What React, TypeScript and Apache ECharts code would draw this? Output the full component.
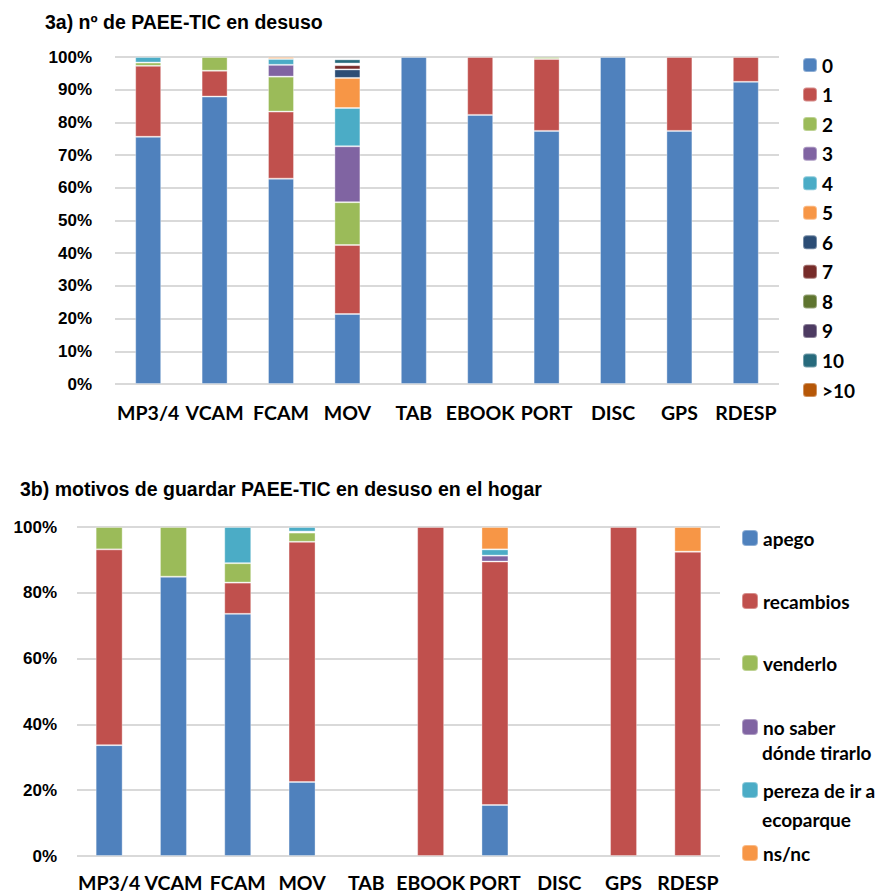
import React, { useEffect, useRef } from "react";
import * as echarts from "echarts";

const categories = ["MP3/4", "VCAM", "FCAM", "MOV", "TAB", "EBOOK", "PORT", "DISC", "GPS", "RDESP"];

// Chart 3a: percentage of devices by number of unused PAEE-TIC
const countNames = ["0", "1", "2", "3", "4", "5", "6", "7", "8", "9", "10", ">10"];
const c0 = [75.6, 87.9, 62.8, 21.4, 100, 82.3, 77.4, 100, 77.4, 92.4];
const c1 = [21.7, 7.9, 20.5, 21.1, 0, 17.7, 22.0, 0, 22.6, 7.6];
const c2 = [1.0, 4.2, 10.7, 13.1, 0, 0, 0.6, 0, 0, 0];
const c3 = [0, 0, 3.6, 17.1, 0, 0, 0, 0, 0, 0];
const c4 = [1.7, 0, 1.8, 11.7, 0, 0, 0, 0, 0, 0];
const c5 = [0, 0, 0.6, 9.2, 0, 0, 0, 0, 0, 0];
const c6 = [0, 0, 0, 2.6, 0, 0, 0, 0, 0, 0];
const c7 = [0, 0, 0, 1.3, 0, 0, 0, 0, 0, 0];
const c8 = [0, 0, 0, 0.3, 0, 0, 0, 0, 0, 0];
const c9 = [0, 0, 0, 0.2, 0, 0, 0, 0, 0, 0];
const c10 = [0, 0, 0, 1.3, 0, 0, 0, 0, 0, 0];
const c11 = [0, 0, 0, 0.2, 0, 0, 0, 0, 0, 0];
const countValues = [c0, c1, c2, c3, c4, c5, c6, c7, c8, c9, c10, c11];

// Chart 3b: reasons to keep unused PAEE-TIC at home
const reasonNames = ["apego", "recambios", "venderlo", "no saber dónde tirarlo", "pereza de ir a ecoparque", "ns/nc"];
const rApego = [33.7, 84.9, 73.6, 22.5, 0, 0, 15.5, 0, 0, 0];
const rRecambios = [59.5, 0, 9.5, 73.0, 0, 100, 74.0, 0, 100, 92.5];
const rVenderlo = [6.8, 15.1, 5.9, 2.8, 0, 0, 0, 0, 0, 0];
const rNoSaber = [0, 0, 0, 0.3, 0, 0, 1.8, 0, 0, 0];
const rPereza = [0, 0, 11.0, 1.4, 0, 0, 1.9, 0, 0, 0];
const rNsnc = [0, 0, 0, 0, 0, 0, 6.8, 0, 0, 7.5];
const reasonValues = [rApego, rRecambios, rVenderlo, rNoSaber, rPereza, rNsnc];

const topTicks = 10;
const bottomTicks = 20;

const palette = [
  "#4F81BD", "#C0504D", "#9BBB59", "#8064A2", "#4BACC6", "#F79646",
  "#2C4D75", "#772C2A", "#5F7530", "#4D3B62", "#276A7C", "#B65708",
];

const labelFont = "Lato, 'Open Sans', sans-serif";
const arialFont = "'Liberation Sans', Arial, sans-serif";

export default function App() {
  const ref = useRef<HTMLDivElement>(null);

  useEffect(() => {
    if (!ref.current) return;
    const chart = echarts.init(ref.current, undefined, { renderer: "svg" });

    const toData = (arr: number[]) => arr.map((v) => (v === 0 ? "-" : v));

    const topSeries = countNames.map((name, i) => ({
      name,
      type: "bar",
      stack: "a",
      xAxisIndex: 0,
      yAxisIndex: 0,
      barWidth: 26,
      data: toData(countValues[i]),
      itemStyle: { color: palette[i], borderColor: "rgba(255,255,255,0.35)", borderWidth: 1 },
    }));

    const bottomSeries = reasonNames.map((name, i) => ({
      name,
      type: "bar",
      stack: "b",
      xAxisIndex: 1,
      yAxisIndex: 1,
      barWidth: 27,
      data: toData(reasonValues[i]),
      itemStyle: { color: palette[i], borderColor: "rgba(255,255,255,0.35)", borderWidth: 1 },
    }));

    const legendTops = [528, 591, 653, 717, 780, 843];
    const bottomLegends = reasonNames.map((name, i) => ({
      data: [name],
      left: 741,
      top: legendTops[i],
      padding: 0,
      itemWidth: 16,
      itemHeight: 16,
      itemGap: 5,
      selectedMode: false,
      formatter: (n: string) =>
        n === "no saber dónde tirarlo" ? "no saber" : n === "pereza de ir a ecoparque" ? "pereza de ir a" : n,
      textStyle: { fontFamily: labelFont, fontWeight: "bold", fontSize: 19, color: "#000", lineHeight: 20 },
    }));

    const gridLine = { show: true, lineStyle: { color: "#D9D9D9", width: 2 } };

    chart.setOption({
      animation: false,
      title: [
        {
          text: "3a) nº de PAEE-TIC en desuso",
          left: 45,
          top: 12,
          padding: 0,
          textStyle: { fontFamily: arialFont, fontWeight: "bold", fontSize: 19.5, color: "#000" },
        },
        {
          text: "3b) motivos de guardar PAEE-TIC en desuso en el hogar",
          left: 20,
          top: 479,
          padding: 0,
          textStyle: { fontFamily: arialFont, fontWeight: "bold", fontSize: 19.5, color: "#000" },
        },
      ],
      legend: [
        {
          data: countNames,
          orient: "vertical",
          left: 802,
          top: 55,
          padding: 0,
          itemWidth: 14,
          itemHeight: 14,
          itemGap: 9.55,
          selectedMode: false,
          textStyle: { fontFamily: labelFont, fontWeight: "bold", fontSize: 19, color: "#000", lineHeight: 20 },
        },
        ...bottomLegends,
      ],
      graphic: [
        {
          type: "text",
          left: 762,
          top: 743,
          style: { text: "dónde tirarlo", font: `bold 19px ${labelFont}`, fill: "#000" },
        },
        {
          type: "text",
          left: 762,
          top: 810,
          style: { text: "ecoparque", font: `bold 19px ${labelFont}`, fill: "#000" },
        },
      ],
      grid: [
        { left: 115, top: 57, width: 664, height: 327 },
        { left: 77, top: 527, width: 643, height: 329 },
      ],
      xAxis: [0, 1].map((g) => ({
        type: "category",
        gridIndex: g,
        data: categories,
        axisLine: { show: false },
        axisTick: { show: false },
        axisLabel: {
          interval: 0,
          margin: g === 0 ? 18 : 16,
          fontFamily: labelFont,
          fontWeight: "bold",
          fontSize: 19.5,
          lineHeight: 20,
          color: "#000",
        },
      })),
      yAxis: [
        {
          type: "value",
          gridIndex: 0,
          min: 0,
          max: 100,
          interval: topTicks,
          axisLine: { show: false },
          axisTick: { show: false },
          splitLine: gridLine,
          axisLabel: {
            formatter: "{value}%",
            margin: 23,
            fontFamily: arialFont,
            fontWeight: "bold",
            fontSize: 17,
            color: "#000",
          },
        },
        {
          type: "value",
          gridIndex: 1,
          min: 0,
          max: 100,
          interval: bottomTicks,
          axisLine: { show: false },
          axisTick: { show: false },
          splitLine: gridLine,
          axisLabel: {
            formatter: "{value}%",
            margin: 20,
            fontFamily: arialFont,
            fontWeight: "bold",
            fontSize: 17,
            color: "#000",
          },
        },
      ],
      series: [...topSeries, ...bottomSeries],
    });

    return () => chart.dispose();
  }, []);

  return (
    <div
      ref={ref}
      style={{ position: "fixed", left: 0, top: 0, width: 895, height: 894, background: "#fff" }}
    />
  );
}
